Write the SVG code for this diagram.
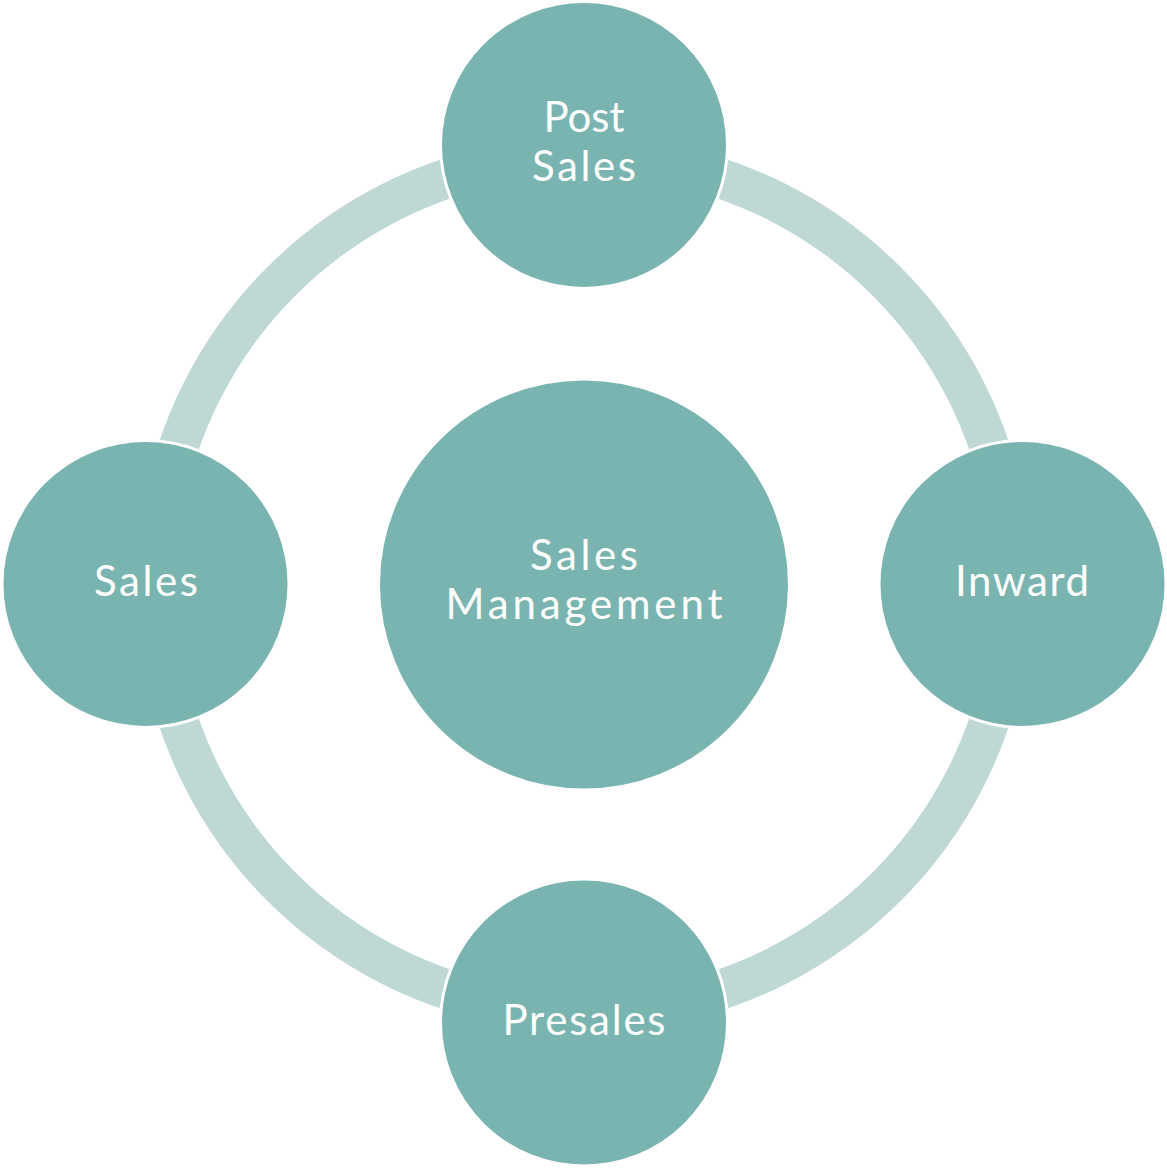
<svg xmlns="http://www.w3.org/2000/svg" width="1167" height="1168" viewBox="0 0 1167 1168">
<style>
.arc{fill:none;stroke:#BFD8D6;stroke-width:40;stroke-linecap:butt}
.node{fill:#7AB4B0;stroke:#FFFFFF;stroke-width:3}
.lbl{font-family:"Lato","Open Sans","Liberation Sans",sans-serif;font-size:42px;fill:#FFFFFF;text-anchor:middle}
</style>
<rect width="1167" height="1168" fill="#FFFFFF"/>
<g id="connectors">
<path class="arc" d="M658.32,162.5 A428,428 0 0 1 1005.5,509.68"/>
<path class="arc" d="M1005.5,658.32 A428,428 0 0 1 658.32,1005.5"/>
<path class="arc" d="M509.68,1005.5 A428,428 0 0 1 162.5,658.32"/>
<path class="arc" d="M162.5,509.68 A428,428 0 0 1 509.68,162.5"/>
</g>
<g id="center">
<circle class="node" cx="584" cy="584.5" r="205.5"/>
<text class="lbl" x="584" y="570" textLength="108" lengthAdjust="spacing">Sales</text>
<text class="lbl" x="584" y="619" textLength="277" lengthAdjust="spacing">Management</text>
</g>
<g id="post-sales">
<circle class="node" cx="584" cy="145" r="143.5"/>
<text class="lbl" x="584" y="132">Post</text>
<text class="lbl" x="584" y="181" textLength="104" lengthAdjust="spacing">Sales</text>
</g>
<g id="inward">
<circle class="node" cx="1022.5" cy="584" r="143.5"/>
<text class="lbl" x="1022" y="596" textLength="134" lengthAdjust="spacing">Inward</text>
</g>
<g id="presales">
<circle class="node" cx="584" cy="1022.5" r="143.5"/>
<text class="lbl" x="584" y="1035" textLength="163" lengthAdjust="spacing">Presales</text>
</g>
<g id="sales">
<circle class="node" cx="145.5" cy="584" r="143.5"/>
<text class="lbl" x="146" y="596" textLength="104" lengthAdjust="spacing">Sales</text>
</g>
</svg>
